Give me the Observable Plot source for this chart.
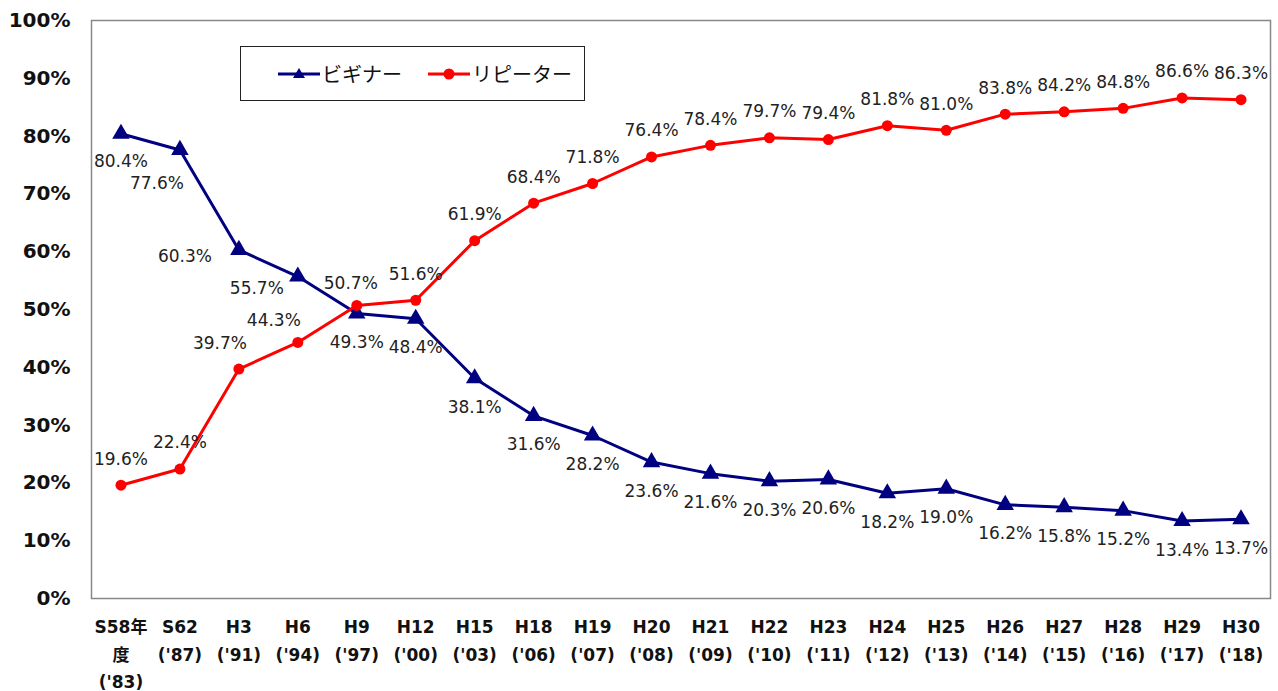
<!DOCTYPE html>
<html>
<head>
<meta charset="utf-8">
<script src="https://cdn.jsdelivr.net/npm/d3@7"></script>
<script src="https://cdn.jsdelivr.net/npm/@observablehq/plot@0.6"></script>
<style>
  html, body { margin: 0; padding: 0; background: #fff; }
  #wrap { position: relative; width: 1278px; height: 691px; font-family: "DejaVu Sans", "Noto Sans CJK JP", sans-serif; }
  #legend { position: absolute; left: 240px; top: 46px; width: 343px; height: 53px; border: 1.5px solid #222; background: #fff; }
  #legend .item { position: absolute; top: 0; height: 53px; display: flex; align-items: center; font-size: 20px; font-family: "Noto Sans CJK JP", sans-serif; color: #111; }
  #legend svg { margin-right: 2px; }
</style>
</head>
<body>
<div id="wrap">
  <div id="chart"></div>
  <div id="legend">
    <div class="item" style="left:37px">
      <svg width="42" height="14"><line x1="0" y1="7" x2="42" y2="7" stroke="#000080" stroke-width="3"/><path d="M21,1 L27,11 L15,11 Z" fill="#000080"/></svg>ビギナー
    </div>
    <div class="item" style="left:187px">
      <svg width="42" height="14"><line x1="0" y1="7" x2="42" y2="7" stroke="#ff0000" stroke-width="3"/><circle cx="21" cy="7" r="5.5" fill="#ff0000"/></svg>リピーター
    </div>
  </div>
</div>
<script>
const categories = ["S58年\n度\n('83)", "S62\n('87)", "H3\n('91)", "H6\n('94)", "H9\n('97)", "H12\n('00)", "H15\n('03)", "H18\n('06)", "H19\n('07)", "H20\n('08)", "H21\n('09)", "H22\n('10)", "H23\n('11)", "H24\n('12)", "H25\n('13)", "H26\n('14)", "H27\n('15)", "H28\n('16)", "H29\n('17)", "H30\n('18)"];
const beginner = [80.4, 77.6, 60.3, 55.7, 49.3, 48.4, 38.1, 31.6, 28.2, 23.6, 21.6, 20.3, 20.6, 18.2, 19.0, 16.2, 15.8, 15.2, 13.4, 13.7];
const repeater = [19.6, 22.4, 39.7, 44.3, 50.7, 51.6, 61.9, 68.4, 71.8, 76.4, 78.4, 79.7, 79.4, 81.8, 81.0, 83.8, 84.2, 84.8, 86.6, 86.3];
const yTicks = [0, 10, 20, 30, 40, 50, 60, 70, 80, 90, 100];

const bData = categories.map((c, i) => ({cat: c, v: beginner[i], i}));
const rData = categories.map((c, i) => ({cat: c, v: repeater[i], i}));
const fmt = d => d.v.toFixed(1) + "%";
const labelStyle = {fontSize: 17, fill: "#222", fontFamily: "DejaVu Sans"};
const NAVY = "#000080", RED = "#ff0000";

const chart = Plot.plot({
  width: 1278,
  height: 691,
  marginLeft: 91,
  marginRight: 8,
  marginTop: 20,
  marginBottom: 93,
  style: {fontFamily: "DejaVu Sans, Noto Sans CJK JP, sans-serif", background: "#fff"},
  x: {type: "band", domain: categories, padding: 0, round: false, label: null},
  y: {domain: [0, 100], label: null},
  marks: [
    Plot.frame({stroke: "#888", strokeWidth: 1.5}),
    Plot.axisY({ticks: yTicks, tickSize: 0, tickPadding: 21, tickFormat: d => d + "%", fontSize: 20, fontWeight: "bold", fill: "#111", label: null}),
    Plot.axisX({tickSize: 0, tickPadding: 15, fontSize: 17, fontWeight: "bold", lineHeight: 1.62, fill: "#111", textAnchor: "middle", label: null}),
    Plot.line(bData, {x: "cat", y: "v", stroke: NAVY, strokeWidth: 3}),
    Plot.line(rData, {x: "cat", y: "v", stroke: RED, strokeWidth: 3}),
    Plot.dot(bData, {x: "cat", y: "v", symbol: "triangle", r: 6.5, fill: NAVY}),
    Plot.dot(rData, {x: "cat", y: "v", r: 5.5, fill: RED}),
    // beginner labels
    Plot.text(bData.filter(d => d.i === 0), {x: "cat", y: "v", text: fmt, dy: 28, ...labelStyle}),
    Plot.text(bData.filter(d => d.i === 1), {x: "cat", y: "v", text: fmt, dx: -23, dy: 34, ...labelStyle}),
    Plot.text(bData.filter(d => d.i === 2), {x: "cat", y: "v", text: fmt, dx: -54, dy: 7, ...labelStyle}),
    Plot.text(bData.filter(d => d.i === 3), {x: "cat", y: "v", text: fmt, dx: -41, dy: 12, ...labelStyle}),
    Plot.text(bData.filter(d => d.i >= 4), {x: "cat", y: "v", text: fmt, dy: 29, ...labelStyle}),
    // repeater labels
    Plot.text(rData.filter(d => d.i === 2), {x: "cat", y: "v", text: fmt, dx: -19, dy: -25, ...labelStyle}),
    Plot.text(rData.filter(d => d.i === 3), {x: "cat", y: "v", text: fmt, dx: -24, dy: -22, ...labelStyle}),
    Plot.text(rData.filter(d => d.i === 4), {x: "cat", y: "v", text: fmt, dx: -6, dy: -22, ...labelStyle}),
    Plot.text(rData.filter(d => d.i < 2 || d.i > 4), {x: "cat", y: "v", text: fmt, dy: -26, ...labelStyle})
  ]
});
document.getElementById("chart").appendChild(chart);
</script>
</body>
</html>
